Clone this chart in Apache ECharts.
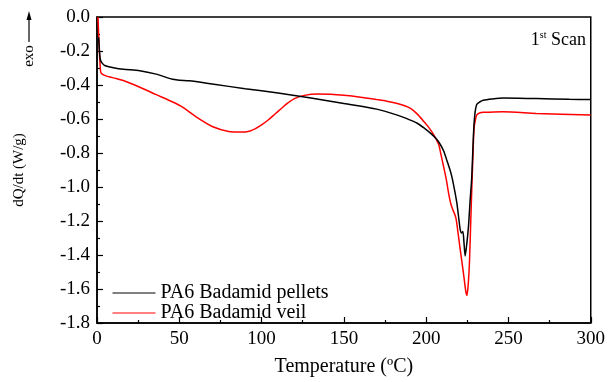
<!DOCTYPE html>
<html>
<head>
<meta charset="utf-8">
<script src="https://cdn.jsdelivr.net/npm/echarts@6/dist/echarts.min.js"></script>
<style>
  html, body { margin: 0; padding: 0; background: #fff; }
  #chart { width: 608px; height: 382px; }
</style>
</head>
<body>
<div id="chart"></div>
<script>
// DSC heat flow, first heating scan
const pelletsT = [1, 1.5, 2, 3, 5, 10, 16, 26, 36, 42, 46, 50, 56, 70, 90, 110, 130, 150, 170, 182.5, 190, 194.6, 199, 202.6, 206, 208.6, 210.7, 212.7, 214.5, 215.7, 217.3, 218.7, 220, 220.7, 221.5, 222.3, 223, 223.7, 224.5, 225.7, 226.7, 227.7, 228.7, 229.5, 230.7, 232.5, 234.7, 240, 246.8, 266.9, 287, 300];
const pelletsQ = [-0.12, -0.2, -0.25, -0.27, -0.287, -0.298, -0.307, -0.316, -0.336, -0.355, -0.366, -0.372, -0.375, -0.394, -0.422, -0.447, -0.476, -0.509, -0.542, -0.577, -0.605, -0.625, -0.655, -0.683, -0.715, -0.75, -0.79, -0.847, -0.9, -0.943, -1.02, -1.098, -1.2, -1.252, -1.27, -1.262, -1.33, -1.406, -1.35, -1.233, -1.08, -0.943, -0.7, -0.58, -0.515, -0.5, -0.49, -0.482, -0.476, -0.48, -0.484, -0.486];

const veilT = [0.6, 1.2, 2, 2.5, 5, 10, 16, 26, 36, 46, 52, 60, 70, 80, 88, 93, 96, 100, 104, 108, 112, 116, 120, 126, 134, 142, 150, 160, 170, 176, 182.5, 187, 190.5, 194.5, 198.6, 202, 204.6, 207.6, 209, 210.7, 212.3, 213.7, 215, 216.3, 217.5, 218.3, 219.5, 220.7, 222, 223.1, 224, 224.7, 225.5, 226.3, 227.3, 228.3, 229.1, 230, 230.7, 232.5, 234.7, 246.8, 266.9, 300];
const veilQ = [0, -0.15, -0.3, -0.33, -0.345, -0.358, -0.374, -0.413, -0.457, -0.5, -0.53, -0.586, -0.644, -0.673, -0.677, -0.67, -0.658, -0.635, -0.606, -0.572, -0.538, -0.505, -0.48, -0.461, -0.453, -0.455, -0.461, -0.472, -0.486, -0.495, -0.509, -0.522, -0.538, -0.57, -0.615, -0.655, -0.693, -0.75, -0.81, -0.885, -0.96, -1.04, -1.1, -1.136, -1.165, -1.194, -1.28, -1.368, -1.46, -1.541, -1.61, -1.638, -1.58, -1.445, -1.136, -0.847, -0.654, -0.6, -0.577, -0.565, -0.561, -0.557, -0.567, -0.577];

const seriesNames = ['PA6 Badamid pellets', 'PA6 Badamid veil'];
const seriesColors = ['#000000', '#ff0000'];

const xMin = 0, xMax = 300, xStep = 50;
const yMin = -1.8, yMax = 0, yStep = 0.2;

const FONT = "'Liberation Serif', 'Times New Roman', serif";

function zip(a, b) { return a.map((v, i) => [v, b[i]]); }

const chart = echarts.init(document.getElementById('chart'), null, { renderer: 'canvas' });

const axisCommon = {
  axisLine: { show: true, onZero: false, lineStyle: { color: '#000', width: 1.5 } },
  axisTick: { show: true, inside: true, length: 6, lineStyle: { color: '#000', width: 1.2 } },
  minorTick: { show: true, splitNumber: 2, length: 3, lineStyle: { color: '#000', width: 1.2 } },
  splitLine: { show: false },
  axisLabel: { color: '#000', fontFamily: FONT, fontSize: 19 },
  nameTextStyle: { color: '#000', fontFamily: FONT }
};

chart.setOption({
  backgroundColor: '#fff',
  animation: false,
  grid: {
    left: 97, right: 13, top: 17, bottom: 54,
    show: true, borderColor: '#000', borderWidth: 1.5, backgroundColor: 'transparent'
  },
  xAxis: Object.assign({}, axisCommon, {
    type: 'value', min: xMin, max: xMax, interval: xStep,
    name: 'Temperature (ºC)', nameLocation: 'middle', nameGap: 34,
    nameTextStyle: { color: '#000', fontFamily: FONT, fontSize: 20 },
    axisLabel: Object.assign({}, axisCommon.axisLabel, { margin: 7 })
  }),
  yAxis: Object.assign({}, axisCommon, {
    type: 'value', min: yMin, max: yMax, interval: yStep,
    name: 'dQ/dt (W/g)', nameLocation: 'middle', nameGap: 70,
    nameTextStyle: { color: '#000', fontFamily: FONT, fontSize: 15 },
    axisLabel: Object.assign({}, axisCommon.axisLabel, {
      margin: 7,
      formatter: v => v.toFixed(1)
    })
  }),
  legend: {
    show: true,
    orient: 'vertical', left: 112, top: 283, padding: 0,
    itemWidth: 43, itemHeight: 20, itemGap: 0,
    itemStyle: { opacity: 0 },
    lineStyle: { width: 1 },
    textStyle: { color: '#000', fontFamily: FONT, fontSize: 20 },
    data: seriesNames
  },
  series: [
    {
      name: seriesNames[0], type: 'line', data: zip(pelletsT, pelletsQ),
      showSymbol: false, symbol: 'none', smooth: 0.25, color: seriesColors[0],
      lineStyle: { color: seriesColors[0], width: 1.5 }, z: 3
    },
    {
      name: seriesNames[1], type: 'line', data: zip(veilT, veilQ),
      showSymbol: false, symbol: 'none', smooth: 0.25, color: seriesColors[1],
      lineStyle: { color: seriesColors[1], width: 1.5 }, z: 2
    }
  ],
  graphic: [
    // exo direction marker
    { type: 'line', shape: { x1: 29, y1: 42, x2: 29, y2: 18 }, style: { stroke: '#000', lineWidth: 1.2 } },
    { type: 'polygon', shape: { points: [[29, 11], [26.5, 20], [31.5, 20]] }, style: { fill: '#000' } },
    { type: 'text', x: 29, y: 56, rotation: Math.PI / 2,
      style: { text: 'exo', fill: '#000', font: '15px ' + FONT, align: 'center', verticalAlign: 'middle' } },
    // scan annotation
    { type: 'text', x: 586, y: 40,
      style: {
        text: '{a|1}{b|st}{a| Scan}', align: 'right', verticalAlign: 'middle',
        rich: {
          a: { fontFamily: FONT, fontSize: 18, fill: '#000' },
          b: { fontFamily: FONT, fontSize: 10, fill: '#000', padding: [0, 0, 9, 0] }
        }
      } },
    // partially visible tick label at the left edge
    { type: 'text', x: -6, y: 343,
      style: { text: '0', fill: '#000', font: '19px ' + FONT, align: 'center', verticalAlign: 'middle' } }
  ]
});
</script>
</body>
</html>
